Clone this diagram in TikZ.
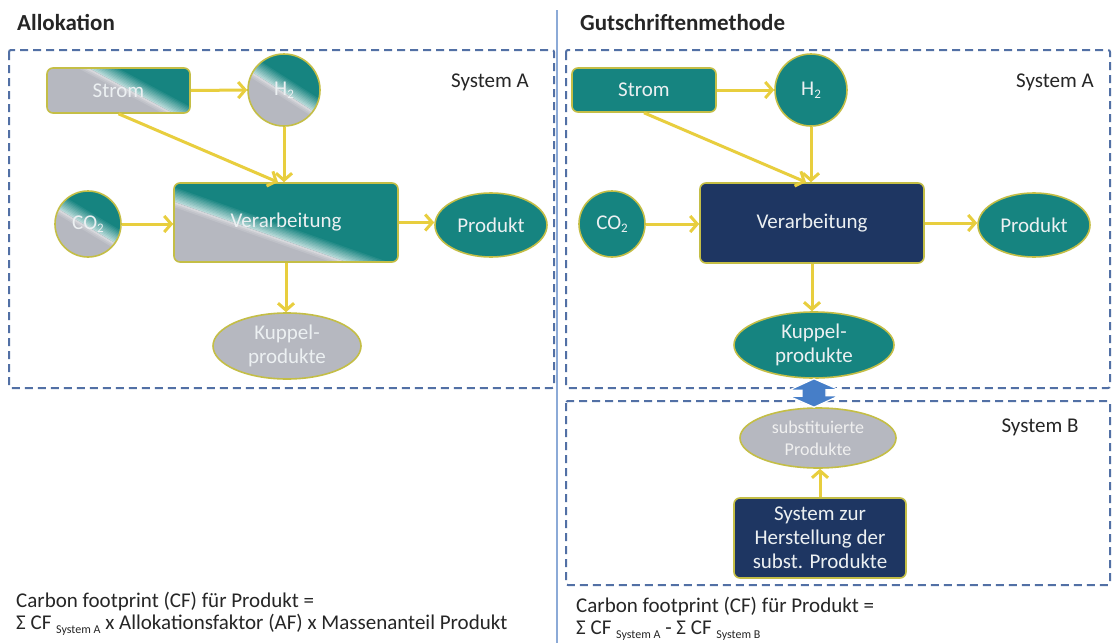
\documentclass[tikz,border=0pt]{standalone}
\usepackage{fontspec}
\setmainfont{Carlito}
\usetikzlibrary{arrows.meta,calc,shapes.geometric}

\definecolor{tealc}{RGB}{22,132,128}
\definecolor{grayc}{RGB}{182,184,192}
\definecolor{navyc}{RGB}{30,54,98}
\definecolor{bordc}{RGB}{196,190,70}
\definecolor{arrowc}{RGB}{232,206,62}
\definecolor{dashc}{RGB}{82,112,165}
\definecolor{dividc}{RGB}{140,170,215}
\definecolor{swapc}{RGB}{70,126,200}
\definecolor{txtc}{RGB}{236,240,242}

\newcommand\cfsub[1]{\raisebox{-4pt}{\fontsize{12}{12}\selectfont #1}}
\newcommand\chemsub[1]{\raisebox{-3pt}{\fontsize{13}{13}\selectfont #1}}

\tikzset{
  lbl/.style={font=\fontsize{21}{24}\selectfont, text=txtc, align=center, inner sep=0pt},
  procbox/.style={lbl, draw=bordc, line width=1.6pt, rounded corners=6pt,
    minimum width=#1},
  roundnode/.style={lbl, draw=bordc, line width=1.6pt, circle, minimum size=#1},
  ovalnode/.style={lbl, draw=bordc, line width=1.6pt, ellipse},
  flow/.style={draw=arrowc, line width=3pt,
    -{Straight Barb[length=7pt,width=16pt]}},
  sysframe/.style={draw=dashc, line width=2pt, dash pattern=on 8pt off 5pt,
    rounded corners=2pt},
  % diagonal two-tone fill: the seam runs from a point on the top edge
  % (fraction #1 of the width) to a point on the bottom edge (fraction #2);
  % grey below left of it, teal above right, lightened close to the seam
  split/.style n args={2}{fill=tealc, path picture={
    \coordinate (sa) at ($(path picture bounding box.north west)!#1!(path picture bounding box.north east)$);
    \coordinate (sb) at ($(path picture bounding box.south west)!#2!(path picture bounding box.south east)$);
    \coordinate (sA) at ($(sa)!-1!(sb)$);
    \coordinate (sB) at ($(sa)!2!(sb)$);
    \foreach \i [evaluate=\i as \pc using 30+7*\i, evaluate=\i as \off using 0.8+1.4*\i] in {0,...,10}{
      \draw[tealc!\pc!white, line width=1.8pt]
        ($(sA)!\off pt!90:(sB)$) -- ($(sB)!\off pt!-90:(sA)$);
    }
    \fill[grayc] (sA) -- (sB) -- ($(path picture bounding box.south west)+(-300pt,-300pt)$) -- cycle;
    \foreach \off/\pc in {4.2/88, 2.6/74, 1/55}{
      \draw[grayc!\pc!white, line width=1.8pt]
        ($(sA)!\off pt!-90:(sB)$) -- ($(sB)!\off pt!90:(sA)$);
    }
  }},
  headline/.style={font=\fontsize{23}{26}\selectfont\bfseries, text=black!85,
    inner sep=0pt, anchor=base west},
  formula/.style={font=\fontsize{21}{24}\selectfont, text=black!85,
    inner sep=0pt, anchor=base west},
  syslabel/.style={font=\fontsize{21}{24}\selectfont, text=black!85, inner sep=0pt},
}

\begin{document}
\begin{tikzpicture}[x=1pt,y=-1pt]
\useasboundingbox[fill=white] (0,0) rectangle (1114,643);

% divider between the two methods
\draw[dividc, line width=1.4pt] (557,10) -- (557,643);

% ---------------- Allokation ----------------
\node[headline] (titleL) at (17,30) {Allokation};
\draw[sysframe] (9,50) rectangle (554,388);
\node[syslabel] (sysAL) at (490,82) {System A};

\node[procbox=143pt, minimum height=45pt, split={0.29}{0.88}] (strL) at (118.5,90.5) {Strom};
\node[roundnode=72pt, split={-0.34}{1.23}] (h2L) at (284,90) {H\chemsub{2}};
\node[roundnode=66pt, split={-0.40}{1.26}] (co2L) at (88,224) {CO\chemsub{2}};
\node[procbox=224pt, minimum height=79pt, split={-0.24}{0.77}] (verL) at (286,222.5) {Verarbeitung};
\node[ovalnode, fill=tealc, minimum width=112pt, minimum height=64pt] (prodL) at (491,225) {Produkt};
\node[ovalnode, fill=grayc, minimum width=148pt, minimum height=66pt] (kupL) at (287,346) {Kuppel-\\produkte};

\draw[flow] (strL.east) -- (h2L.west);
\draw[flow] (strL.south) -- ($(verL.north)+(-8,0)$);
\draw[flow] (h2L.south) -- (h2L.south |- verL.north);
\draw[flow] (co2L.east) -- (co2L.east -| verL.west);
\draw[flow] (verL.east) -- (verL.east -| prodL.west);
\draw[flow] (verL.south) -- (verL.south |- kupL.north);

\node[formula] (cfL1) at (16,607) {Carbon footprint (CF) für Produkt =};
\node[formula] (cfL2) at (16,629) {Σ CF \cfsub{System A} x Allokationsfaktor (AF) x Massenanteil Produkt};

% ---------------- Gutschriftenmethode ----------------
\node[headline] (titleR) at (580,30) {Gutschriftenmethode};
\draw[sysframe] (566,50) rectangle (1110,388);
\draw[sysframe] (566,401) rectangle (1110,585);
\node[syslabel] (sysAR) at (1055,82) {System A};
\node[syslabel] (sysBR) at (1040,427) {System B};

\node[procbox=144pt, minimum height=44pt, fill=tealc] (strR) at (644,90) {Strom};
\node[roundnode=72pt, fill=tealc] (h2R) at (811,90) {H\chemsub{2}};
\node[roundnode=66pt, fill=tealc] (co2R) at (612,224) {CO\chemsub{2}};
\node[procbox=224pt, minimum height=80pt, fill=navyc] (verR) at (812,223) {Verarbeitung};
\node[ovalnode, fill=tealc, minimum width=112pt, minimum height=64pt] (prodR) at (1034,225) {Produkt};
\node[ovalnode, fill=tealc, minimum width=160pt, minimum height=66pt] (kupR) at (814,345) {Kuppel-\\produkte};
\node[ovalnode, fill=grayc, minimum width=156pt, minimum height=60pt,
      font=\fontsize{18}{22}\selectfont, text=white!88!gray] (subR) at (818,438) {substituierte\\Produkte};
\node[procbox=172pt, minimum height=80pt, fill=navyc] (sysR) at (820,538)
  {System zur\\Herstellung der\\subst. Produkte};

\draw[flow] (strR.east) -- (h2R.west);
\draw[flow] (strR.south) -- ($(verR.north)+(-6,0)$);
\draw[flow] (h2R.south) -- (h2R.south |- verR.north);
\draw[flow] (co2R.east) -- (co2R.east -| verR.west);
\draw[flow] (verR.east) -- (verR.east -| prodR.west);
\draw[flow] (verR.south) -- (verR.south |- kupR.north);
\draw[flow] (sysR.north) -- (sysR.north |- subR.south);

% exchange between co-products and substituted products
\coordinate (xtop) at (kupR.south);
\coordinate (xbot) at (subR.north);
\fill[swapc, draw=white, line width=1.2pt]
  (xtop) -- ++(25,11) -- ++(-13,0) -- ++(0,6) -- ++(13,0)
  -- (xtop |- xbot) -- ++(-25,-11) -- ++(13,0) -- ++(0,-6) -- ++(-13,0) -- cycle;

\node[formula] (cfR1) at (576,612) {Carbon footprint (CF) für Produkt =};
\node[formula] (cfR2) at (576,634) {Σ CF \cfsub{System A} - Σ CF \cfsub{System B}};
\end{tikzpicture}
\end{document}
